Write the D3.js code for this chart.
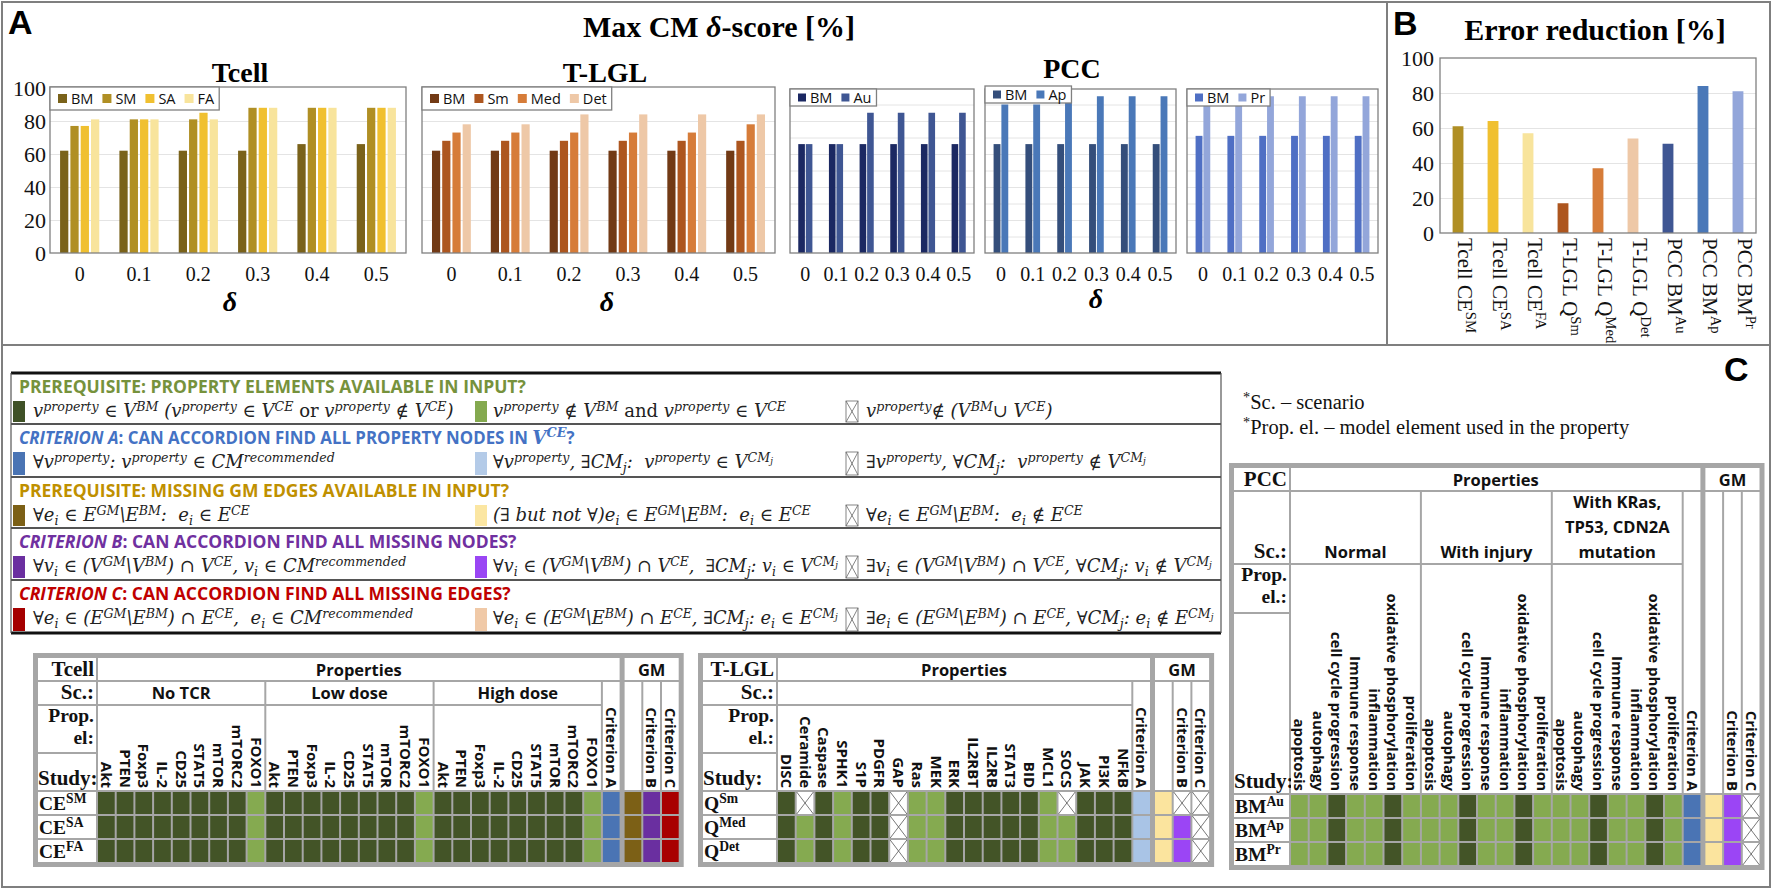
<!DOCTYPE html>
<html>
<head>
<meta charset="utf-8">
<script src="https://cdn.jsdelivr.net/npm/d3@7/dist/d3.min.js"></script>
<style>
  body { margin: 0; background: #fff; }
  svg text { white-space: pre; }
</style>
</head>
<body>
<svg id="fig" width="1772" height="889"></svg>
<script>
// ---------- panel A : max CM delta-score [%] ----------
const deltas = ['0', '0.1', '0.2', '0.3', '0.4', '0.5'];
const tcellBM = [62, 62, 62, 62, 66, 66];
const tcellSM = [77, 81, 81, 88, 88, 88];
const tcellSA = [77, 81, 85, 88, 88, 88];
const tcellFA = [81, 81, 81, 88, 88, 88];
const tlglBM = [62, 62, 62, 62, 62, 62];
const tlglSm = [68, 68, 68, 68, 68, 68];
const tlglMed = [73, 73, 73, 73, 73, 78];
const tlglDet = [78, 78, 84, 84, 84, 84];
const pccBMau = [66, 66, 66, 66, 66, 66];
const pccAu = [66, 66, 85, 85, 85, 85];
const pccBMap = [66, 66, 66, 66, 66, 66];
const pccAp = [90, 90, 95, 95, 95, 95];
const pccBMpr = [71, 71, 71, 71, 71, 71];
const pccPr = [90, 90, 95, 95, 95, 95];
const yTicks = [0, 20, 40, 60, 80, 100];

// ---------- panel B : error reduction [%] ----------
const errLabels = ['Tcell CE^{SM}', 'Tcell CE^{SA}', 'Tcell CE^{FA}', 'T-LGL Q^{Sm}', 'T-LGL Q^{Med}',
                   'T-LGL Q^{Det}', 'PCC BM^{Au}', 'PCC BM^{Ap}', 'PCC BM^{Pr}'];
const errValues = [61, 64, 57, 17, 37, 54, 51, 84, 81];

// ---------- panel C : legend of criteria ----------
const critHeads = [
  [['PREREQUISITE: PROPERTY ELEMENTS AVAILABLE IN INPUT?', 'n']],
  [['CRITERION A', 'i'], [': CAN ACCORDION FIND ALL PROPERTY NODES IN ', 'n'], ['V^{CE}', 'm'], ['?', 'n']],
  [['PREREQUISITE: MISSING GM EDGES AVAILABLE IN INPUT?', 'n']],
  [['CRITERION B', 'i'], [': CAN ACCORDION FIND ALL MISSING NODES?', 'n']],
  [['CRITERION C', 'i'], [': CAN ACCORDION FIND ALL MISSING EDGES?', 'n']]
];
const critFormulas = [
  ['v^{property} ∈ V^{BM} (v^{property} ∈ V^{CE} ~or~ v^{property} ∉ V^{CE})',
   'v^{property} ∉ V^{BM} ~and~ v^{property} ∈ V^{CE}',
   'v^{property}∉ (V^{BM}∪ V^{CE})'],
  ['∀v^{property}: v^{property} ∈ CM^{recommended}',
   '∀v^{property}, ∃CM_{j}:  v^{property} ∈ V^{CM_{j}}',
   '∃v^{property}, ∀CM_{j}:  v^{property} ∉ V^{CM_{j}}'],
  ['∀e_{i} ∈ E^{GM}\\E^{BM}:  e_{i} ∈ E^{CE}',
   '(∃ but not ∀)e_{i} ∈ E^{GM}\\E^{BM}:  e_{i} ∈ E^{CE}',
   '∀e_{i} ∈ E^{GM}\\E^{BM}:  e_{i} ∉ E^{CE}'],
  ['∀v_{i} ∈ (V^{GM}\\V^{BM}) ∩ V^{CE}, v_{i} ∈ CM^{recommended}',
   '∀v_{i} ∈ (V^{GM}\\V^{BM}) ∩ V^{CE},  ∃CM_{j}: v_{i} ∈ V^{CM_{j}}',
   '∃v_{i} ∈ (V^{GM}\\V^{BM}) ∩ V^{CE}, ∀CM_{j}: v_{i} ∉ V^{CM_{j}}'],
  ['∀e_{i} ∈ (E^{GM}\\E^{BM}) ∩ E^{CE},  e_{i} ∈ CM^{recommended}',
   '∀e_{i} ∈ (E^{GM}\\E^{BM}) ∩ E^{CE}, ∃CM_{j}: e_{i} ∈ E^{CM_{j}}',
   '∃e_{i} ∈ (E^{GM}\\E^{BM}) ∩ E^{CE}, ∀CM_{j}: e_{i} ∉ E^{CM_{j}}']
];

// ---------- panel C : result tables ----------
const tcellScenarios = [['No TCR'], ['Low dose'], ['High dose']];
const tcellElements = ['Akt', 'PTEN', 'Foxp3', 'IL-2', 'CD25', 'STAT5', 'mTOR', 'mTORC2', 'FOXO1'];
const tcellStudies = ['CE^{SM}', 'CE^{SA}', 'CE^{FA}'];
const tcellCells = ['DDDDDDDDLDDDDDDDDLDDDDDDDDLAGPR',
                    'DDDDDDDDLDDDDDDDDLDDDDDDDDLAGPR',
                    'DDDDDDDDLDDDDDDDDLDDDDDDDDLAGPR'];

const tlglScenarios = [['']];
const tlglElements = ['DISC', 'Ceramide', 'Caspase', 'SPHK1', 'S1P', 'PDGFR', 'GAP', 'Ras', 'MEK', 'ERK',
                      'IL2RBT', 'IL2RB', 'STAT3', 'BID', 'MCL1', 'SOCS', 'JAK', 'PI3K', 'NFkB'];
const tlglStudies = ['Q^{Sm}', 'Q^{Med}', 'Q^{Det}'];
const tlglCells = ['DXDLDDXLLDDDDDLXDDDagXX',
                   'DLDLDDXLLDDDDDLLDDDagpX',
                   'DLDLDDXLLDDDDDLLDDDagpX'];

const pccScenarios = [['Normal'], ['With injury'], ['With KRas,', 'TP53, CDN2A', 'mutation']];
const pccElements = ['apoptosis', 'autophagy', 'cell cycle progression', 'Immune response',
                     'inflammation', 'oxidative phosphorylation', 'proliferation'];
const pccStudies = ['BM^{Au}', 'BM^{Ap}', 'BM^{Pr}'];
const pccCells = ['LLDLLDLLLDLLDLLLDLLDLAgpX',
                  'LLDLLDLLLDLLDLLLDLLDLAgpX',
                  'LLDLLDLLLDLLDLLLDLLDLAgpX'];

const serif = '"Liberation Serif", "Times New Roman", serif';
const sans = '"Open Sans", "Liberation Sans", sans-serif';
const mathFont = '"DejaVu Serif", serif';

const svg = d3.select('#fig');

// ---- small rich text helper: ^{..} sup, _{..} sub, ~ toggles italic ----
function parseRich(str, base, out) {
  let buf = '';
  const st = Object.assign({}, base);
  const flush = () => { if (buf) { out.push(Object.assign({ t: buf }, st)); buf = ''; } };
  for (let i = 0; i < str.length; i++) {
    const c = str[i];
    if ((c === '^' || c === '_') && str[i + 1] === '{') {
      flush();
      let depth = 1, j = i + 2;
      while (depth > 0 && j < str.length) {
        if (str[j] === '{') depth++; else if (str[j] === '}') depth--;
        j++;
      }
      const sub = Object.assign({}, st, {
        size: st.size * 0.7,
        offset: st.offset + (c === '^' ? -st.size * 0.36 : st.size * 0.22)
      });
      parseRich(str.slice(i + 2, j - 1), sub, out);
      i = j - 1;
    } else if (c === '~') {
      flush();
      st.italic = !st.italic;
    } else buf += c;
  }
  flush();
  return out;
}

function writeSegs(text, segs) {
  let prev = 0;
  segs.forEach(s => {
    text.append('tspan')
      .attr('dy', (s.offset - prev).toFixed(2))
      .attr('font-family', s.family)
      .attr('font-weight', s.weight)
      .attr('font-style', s.italic ? 'italic' : 'normal')
      .attr('font-size', s.size.toFixed(1))
      .text(s.t);
    prev = s.offset;
  });
  return text;
}

// squeeze a text horizontally if it runs past maxW
function fitWidth(text, x0, maxW) {
  const w = text.node().getComputedTextLength();
  if (w > maxW) {
    const k = maxW / w;
    text.attr('transform', `translate(${x0},0) scale(${k},1) translate(${-x0},0)`);
  }
}

// ---------- frame ----------
svg.append('rect').attr('x', 2).attr('y', 2).attr('width', 1768).attr('height', 885)
  .attr('fill', 'none').attr('stroke', '#7f7f7f').attr('stroke-width', 2);
svg.append('line').attr('x1', 1387).attr('x2', 1387).attr('y1', 2).attr('y2', 345)
  .attr('stroke', '#7f7f7f').attr('stroke-width', 2);
svg.append('line').attr('x1', 2).attr('x2', 1770).attr('y1', 345).attr('y2', 345)
  .attr('stroke', '#7f7f7f').attr('stroke-width', 2);

function panelLetter(t, x, y) {
  svg.append('text').attr('x', x).attr('y', y).attr('font-family', '"Liberation Sans", Arial, sans-serif')
    .attr('font-weight', 700).attr('font-size', 34).text(t);
}
panelLetter('A', 8, 34);
panelLetter('B', 1393, 35);
panelLetter('C', 1724, 381);

// ---------- panel A ----------
const title = svg.append('text').attr('x', 719).attr('y', 37).attr('text-anchor', 'middle')
  .attr('font-family', serif).attr('font-weight', 700).attr('font-size', 30);
title.append('tspan').text('Max CM ');
title.append('tspan').attr('font-style', 'italic').text('δ');
title.append('tspan').text('-score [%]');

function subTitle(t, x, y) {
  svg.append('text').attr('x', x).attr('y', y).attr('text-anchor', 'middle')
    .attr('font-family', serif).attr('font-weight', 700).attr('font-size', 28).text(t);
}
subTitle('Tcell', 240, 82);
subTitle('T-LGL', 605, 82);
subTitle('PCC', 1072, 78);

function deltaLabel(x, y) {
  svg.append('text').attr('x', x).attr('y', y).attr('text-anchor', 'middle')
    .attr('font-family', serif).attr('font-weight', 700).attr('font-style', 'italic')
    .attr('font-size', 28).text('δ');
}
deltaLabel(230, 311);
deltaLabel(607, 311);
deltaLabel(1096, 308);

const yA = d3.scaleLinear().domain([0, 100]).range([253, 88]);

function legend(x, y, h, names, colors, sw) {
  const g = svg.append('g');
  const box = g.append('rect').attr('x', x).attr('y', y).attr('height', h)
    .attr('fill', '#fff').attr('stroke', '#808080').attr('stroke-width', 1.3);
  let cx = x + 8;
  names.forEach((n, i) => {
    g.append('rect').attr('x', cx).attr('y', y + h / 2 - sw / 2).attr('width', sw).attr('height', sw)
      .attr('fill', colors[i]);
    const t = g.append('text').attr('x', cx + sw + 4).attr('y', y + h / 2).attr('dy', '0.36em')
      .attr('font-family', sans).attr('font-size', 14.5).attr('fill', '#111').text(n);
    cx += sw + 4 + t.node().getComputedTextLength() + 9;
  });
  box.attr('width', cx - x - 4);
}

function groupedBars(c) {
  const names = c.series.map(s => s.name);
  const x = d3.scaleBand().domain(deltas).range([c.x0, c.x1]).paddingInner(c.pi).paddingOuter(c.po);
  const xs = d3.scaleBand().domain(names).range([0, x.bandwidth()]).padding(c.sp);
  const g = svg.append('g');

  const grid = g.append('g').attr('transform', `translate(${c.x0},0)`)
    .call(d3.axisLeft(yA).tickValues(d3.range(c.grid, 100, c.grid)).tickSize(-(c.x1 - c.x0)).tickFormat(''));
  grid.select('.domain').remove();
  grid.selectAll('line').attr('stroke', '#e4e4e4');

  const rows = deltas.map((d, i) => ({ d, vals: c.series.map(s => ({ name: s.name, color: s.color, v: s.values[i] })) }));
  g.selectAll('.grp').data(rows).join('g').attr('class', 'grp')
    .attr('transform', r => `translate(${x(r.d)},0)`)
    .selectAll('rect').data(r => r.vals).join('rect')
    .attr('x', v => xs(v.name)).attr('y', v => yA(v.v))
    .attr('width', xs.bandwidth()).attr('height', v => yA(0) - yA(v.v))
    .attr('fill', v => v.color);

  g.append('rect').attr('x', c.x0).attr('y', c.top).attr('width', c.x1 - c.x0).attr('height', 253 - c.top)
    .attr('fill', 'none').attr('stroke', '#808080').attr('stroke-width', 1.3);

  const xa = g.append('g').attr('transform', 'translate(0,253)').call(d3.axisBottom(x).tickSize(0).tickPadding(14));
  xa.select('.domain').remove();
  xa.selectAll('text').attr('font-family', serif).attr('font-size', 20).attr('fill', '#111');

  if (c.showY) {
    const ya = g.append('g').attr('transform', `translate(${c.x0 - 4},0)`)
      .call(d3.axisLeft(yA).tickValues(yTicks).tickSize(0).tickPadding(0));
    ya.select('.domain').remove();
    ya.selectAll('text').attr('font-family', serif).attr('font-size', 22).attr('fill', '#111');
  }
  legend(c.lx, c.ly, c.lh, names, c.series.map(s => s.color), c.sw);
}

groupedBars({
  x0: 50, x1: 406, top: 87, pi: 0.27, po: 0.135, sp: 0.2, grid: 20, showY: true,
  lx: 50, ly: 87, lh: 23, sw: 9,
  series: [{ name: 'BM', color: '#7a621a', values: tcellBM }, { name: 'SM', color: '#b08f24', values: tcellSM },
           { name: 'SA', color: '#f0c030', values: tcellSA }, { name: 'FA', color: '#f8e49c', values: tcellFA }]
});
groupedBars({
  x0: 422, x1: 775, top: 87, pi: 0.27, po: 0.135, sp: 0.2, grid: 20, showY: false,
  lx: 422, ly: 87, lh: 23, sw: 9,
  series: [{ name: 'BM', color: '#723a15', values: tlglBM }, { name: 'Sm', color: '#ad561f', values: tlglSm },
           { name: 'Med', color: '#d67c39', values: tlglMed }, { name: 'Det', color: '#eec8a7', values: tlglDet }]
});
groupedBars({
  x0: 790, x1: 974, top: 89, pi: 0.48, po: 0.24, sp: 0.12, grid: 10, showY: false,
  lx: 790, ly: 89, lh: 17, sw: 8,
  series: [{ name: 'BM', color: '#1b2862', values: pccBMau }, { name: 'Au', color: '#3f5693', values: pccAu }]
});
groupedBars({
  x0: 985, x1: 1176, top: 89, pi: 0.48, po: 0.24, sp: 0.12, grid: 10, showY: false,
  lx: 985, ly: 86, lh: 17, sw: 8,
  series: [{ name: 'BM', color: '#344e7b', values: pccBMap }, { name: 'Ap', color: '#4a78b8', values: pccAp }]
});
groupedBars({
  x0: 1187, x1: 1378, top: 89, pi: 0.48, po: 0.24, sp: 0.12, grid: 10, showY: false,
  lx: 1187, ly: 89, lh: 17, sw: 8,
  series: [{ name: 'BM', color: '#4f6fc4', values: pccBMpr }, { name: 'Pr', color: '#93a6da', values: pccPr }]
});

// ---------- panel B ----------
const errColors = ['#b08f24', '#f0c030', '#f8e49c', '#ad561f', '#d67c39', '#eec8a7', '#3f5693', '#4a78b8', '#93a6da'];
svg.append('text').attr('x', 1595).attr('y', 40).attr('text-anchor', 'middle')
  .attr('font-family', serif).attr('font-weight', 700).attr('font-size', 30).text('Error reduction [%]');

const xB = d3.scaleBand().domain(errLabels).range([1440, 1756]).paddingInner(0.69).paddingOuter(0.36);
const yB = d3.scaleLinear().domain([0, 100]).range([233, 58]);
const gB = svg.append('g');
const gridB = gB.append('g').attr('transform', 'translate(1440,0)')
  .call(d3.axisLeft(yB).tickValues([20, 40, 60, 80]).tickSize(-316).tickFormat(''));
gridB.select('.domain').remove();
gridB.selectAll('line').attr('stroke', '#e4e4e4');
gB.selectAll('.bar').data(errLabels).join('rect').attr('class', 'bar')
  .attr('x', d => xB(d)).attr('width', xB.bandwidth())
  .attr('y', (d, i) => yB(errValues[i])).attr('height', (d, i) => yB(0) - yB(errValues[i]))
  .attr('fill', (d, i) => errColors[i]);
gB.append('rect').attr('x', 1440).attr('y', 58).attr('width', 316).attr('height', 175)
  .attr('fill', 'none').attr('stroke', '#808080').attr('stroke-width', 1.3);
const yaB = gB.append('g').attr('transform', 'translate(1434,0)')
  .call(d3.axisLeft(yB).tickValues(yTicks).tickSize(0).tickPadding(0));
yaB.select('.domain').remove();
yaB.selectAll('text').attr('font-family', serif).attr('font-size', 22).attr('fill', '#111');
errLabels.forEach(lab => {
  const t = gB.append('text')
    .attr('transform', `translate(${xB(lab) + xB.bandwidth() / 2},238) rotate(90)`)
    .attr('dy', '0.36em').attr('fill', '#111');
  writeSegs(t, parseRich(lab, { size: 21, offset: 0, italic: false, family: serif, weight: 400 }, []));
});

// ---------- panel C : criteria ----------
const critY = [373, 424, 477, 528, 580, 633];
const critHeadColors = ['#76923c', '#4472c4', '#bf9000', '#7030a0', '#c00000'];
const critFull = ['#3f5127', '#4a74b4', '#7c6016', '#6b2fa0', '#a50000'];
const critPartial = ['#84a94f', '#b4cbe8', '#fbe6a2', '#9a46f4', '#f0c9a7'];
const formulaX = [33, 493, 866];
const formulaW = [437, 345, 353];

const gC = svg.append('g');
critHeads.forEach((parts, r) => {
  const top = critY[r], bot = critY[r + 1];
  const segs = [];
  parts.forEach(([t, k]) => {
    const base = k === 'm'
      ? { size: 19, offset: 0, italic: true, family: mathFont, weight: 700 }
      : { size: 17.5, offset: 0, italic: k === 'i', family: sans, weight: 700 };
    parseRich(t, base, segs);
  });
  const head = gC.append('text').attr('x', 19).attr('y', top + 20).attr('fill', critHeadColors[r]);
  writeSegs(head, segs);
  fitWidth(head, 19, 556);

  const sy = top + 28, sh = bot - top - 30;
  gC.append('rect').attr('x', 13).attr('y', sy).attr('width', 12).attr('height', sh).attr('fill', critFull[r]);
  gC.append('rect').attr('x', 475).attr('y', sy).attr('width', 12).attr('height', sh).attr('fill', critPartial[r]);
  gC.append('rect').attr('x', 846).attr('y', sy).attr('width', 12).attr('height', sh)
    .attr('fill', '#fff').attr('stroke', '#666').attr('stroke-width', 0.8);
  gC.append('path').attr('d', `M846,${sy}L858,${sy + sh}M858,${sy}L846,${sy + sh}`)
    .attr('stroke', '#666').attr('stroke-width', 0.8);

  critFormulas[r].forEach((f, k) => {
    const t = gC.append('text').attr('x', formulaX[k]).attr('y', top + 44).attr('fill', '#222');
    writeSegs(t, parseRich(f, { size: 18, offset: 0, italic: true, family: mathFont, weight: 400 }, []));
    fitWidth(t, formulaX[k], formulaW[k]);
  });
});
gC.append('line').attr('x1', 11).attr('x2', 1221).attr('y1', 373).attr('y2', 373).attr('stroke', '#111').attr('stroke-width', 3);
gC.append('line').attr('x1', 11).attr('x2', 1221).attr('y1', 633).attr('y2', 633).attr('stroke', '#111').attr('stroke-width', 3);
[11, 1221].forEach(x => gC.append('line').attr('x1', x).attr('x2', x).attr('y1', 373).attr('y2', 633)
  .attr('stroke', '#555').attr('stroke-width', 1.2));
critY.slice(1, 5).forEach(y => gC.append('line').attr('x1', 11).attr('x2', 1221).attr('y1', y).attr('y2', y)
  .attr('stroke', '#555').attr('stroke-width', 1.8));

// notes
[['^{*}Sc. – scenario', 409], ['^{*}Prop. el. – model element used in the property', 434]].forEach(([s, y]) => {
  const t = svg.append('text').attr('x', 1243).attr('y', y).attr('fill', '#111');
  writeSegs(t, parseRich(s, { size: 20.5, offset: 0, italic: false, family: serif, weight: 400 }, []));
});

// ---------- panel C : tables ----------
const cellColors = { D: '#435427', L: '#85aa50', A: '#4a74b4', a: '#a9c4e6', G: '#7c6016',
                     g: '#fbe49e', P: '#6a2fa0', p: '#9b45f5', R: '#a80000' };

function buildTable(c) {
  const g = svg.append('g');
  const propIds = [];
  c.groups.forEach((gr, gi) => c.elements.forEach((el, ei) => propIds.push(gi + ':' + ei)));
  const colIds = propIds.concat(['critA']);
  const xp = d3.scaleBand().domain(colIds).range([c.propX, c.propX + colIds.length * c.colW]);
  const gmIds = ['gm', 'critB', 'critC'];
  const gmX = c.propX + colIds.length * c.colW + c.gmGap;
  const xg = d3.scaleBand().domain(gmIds).range([gmX, gmX + 3 * c.colW]);
  const yr = d3.scaleBand().domain(c.studies).range([c.dataTop, c.dataTop + c.studies.length * c.rowH]);
  const right = gmX + 3 * c.colW;
  const bottom = yr.range()[1];

  g.append('rect').attr('x', c.labelX - 4).attr('y', c.r0[0] - 4)
    .attr('width', right - c.labelX + 8).attr('height', bottom - c.r0[0] + 8).attr('fill', '#a6a6a6');
  const cell = (x0, y0, x1, y1, fill) => g.append('rect').attr('x', x0 + 1).attr('y', y0 + 1)
    .attr('width', x1 - x0 - 2).attr('height', y1 - y0 - 2).attr('fill', fill || '#fff');
  const serifText = (x, y, s, anchor, size) => {
    const t = g.append('text').attr('x', x).attr('y', y).attr('text-anchor', anchor || 'start').attr('fill', '#111');
    writeSegs(t, parseRich(s, { size: size || 21, offset: 0, italic: false, family: serif, weight: 700 }, []));
    return t;
  };
  const sansText = (x, y, s) => g.append('text').attr('x', x).attr('y', y).attr('text-anchor', 'middle')
    .attr('font-family', sans).attr('font-weight', 700).attr('font-size', 16.5).attr('fill', '#111').text(s);
  const vText = (cx, yb, s) => g.append('text')
    .attr('transform', `translate(${cx},${yb}) rotate(90)`).attr('text-anchor', 'end').attr('dy', '0.36em')
    .attr('font-family', sans).attr('font-weight', 700).attr('font-size', 15).attr('fill', '#111').text(s);

  const lx1 = c.propX;
  // label column
  cell(c.labelX, c.r0[0], lx1, c.r0[1]);
  serifText(lx1 - 3, c.r0[1] - 5, c.name, 'end');
  cell(c.labelX, c.r1[0], lx1, c.r1[1]);
  serifText(lx1 - 3, c.r1[1] - 6, 'Sc.:', 'end');
  cell(c.labelX, c.r2[0], lx1, c.split);
  serifText(lx1 - 3, c.r2[0] + 17, 'Prop.', 'end', 19.5);
  serifText(lx1 - 3, c.r2[0] + 39, c.elLabel, 'end', 19.5);
  cell(c.labelX, c.split, lx1, c.r2[1]);
  serifText(c.labelX + 1, c.r2[1] - 6, 'Study:', 'start');

  // properties header
  const critAx = xp('critA');
  cell(c.propX, c.r0[0], critAx + c.colW, c.r0[1]);
  sansText((c.propX + critAx + c.colW) / 2, c.r0[1] - 5, 'Properties');
  cell(gmX, c.r0[0], right, c.r0[1]);
  sansText((gmX + right) / 2, c.r0[1] - 5, 'GM');

  // scenario groups and element headers
  c.groups.forEach((lines, gi) => {
    const gx0 = xp(gi + ':0');
    const gx1 = xp(gi + ':' + (c.elements.length - 1)) + c.colW;
    cell(gx0, c.r1[0], gx1, c.r1[1]);
    lines.forEach((ln, li) => sansText((gx0 + gx1) / 2, c.r1[1] - 6 - (lines.length - 1 - li) * 25, ln));
    cell(gx0, c.r2[0], gx1, c.r2[1]);
    c.elements.forEach((el, ei) => vText(xp(gi + ':' + ei) + c.colW / 2, c.r2[1] - 3, el));
  });
  cell(critAx, c.r1[0], critAx + c.colW, c.r2[1]);
  vText(critAx + c.colW / 2, c.r2[1] - 3, 'Criterion A');
  gmIds.forEach((id, k) => {
    cell(xg(id), c.r1[0], xg(id) + c.colW, c.r2[1]);
    if (k > 0) vText(xg(id) + c.colW / 2, c.r2[1] - 3, k === 1 ? 'Criterion B' : 'Criterion C');
  });

  // data rows
  const allIds = colIds.concat(gmIds);
  c.studies.forEach((st, r) => {
    const y0 = yr(st), y1 = y0 + yr.bandwidth();
    cell(c.labelX, y0, lx1, y1);
    serifText(c.labelX + 2, y1 - 5, st, 'start', 19.5);
    allIds.forEach((id, k) => {
      const x0 = k < colIds.length ? xp(id) : xg(id);
      const code = c.cells[r][k];
      if (code === 'X') {
        cell(x0, y0, x0 + c.colW, y1, '#fff');
        g.append('path').attr('d', `M${x0 + 1},${y0 + 1}L${x0 + c.colW - 1},${y1 - 1}M${x0 + c.colW - 1},${y0 + 1}L${x0 + 1},${y1 - 1}`)
          .attr('stroke', '#555').attr('stroke-width', 0.8);
      } else {
        cell(x0, y0, x0 + c.colW, y1, cellColors[code]);
      }
    });
  });
}

buildTable({
  name: 'Tcell', elLabel: 'el:', groups: tcellScenarios, elements: tcellElements, studies: tcellStudies, cells: tcellCells,
  labelX: 37, propX: 97, colW: 18.7, gmGap: 3,
  r0: [657, 681], r1: [681, 705], r2: [705, 791], split: 753, dataTop: 791, rowH: 24
});
buildTable({
  name: 'T-LGL', elLabel: 'el.:', groups: tlglScenarios, elements: tlglElements, studies: tlglStudies, cells: tlglCells,
  labelX: 702, propX: 777, colW: 18.7, gmGap: 3,
  r0: [657, 681], r1: [681, 705], r2: [705, 791], split: 753, dataTop: 791, rowH: 24
});
buildTable({
  name: 'PCC', elLabel: 'el.:', groups: pccScenarios, elements: pccElements, studies: pccStudies, cells: pccCells,
  labelX: 1233, propX: 1290, colW: 18.7, gmGap: 3,
  r0: [467, 491], r1: [491, 564], r2: [564, 794], split: 613, dataTop: 794, rowH: 24
});
</script>
</body>
</html>
